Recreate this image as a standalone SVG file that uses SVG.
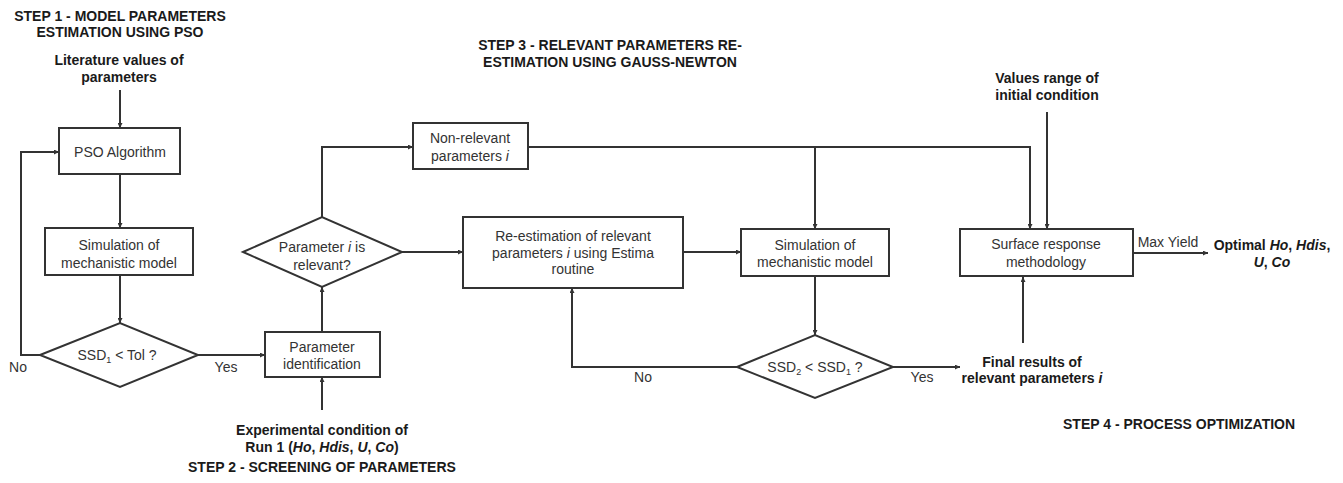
<svg xmlns="http://www.w3.org/2000/svg" width="1343" height="483" viewBox="0 0 1343 483">
<style>
.box{fill:#fff;stroke:#333;stroke-width:2}
.ln{fill:none;stroke:#333;stroke-width:2}
.t{font-family:"Liberation Sans",Arial,sans-serif;font-size:14px;fill:#333;text-anchor:middle}
.b{font-family:"Liberation Sans",Arial,sans-serif;font-size:14px;font-weight:bold;fill:#1a1a1a;text-anchor:middle}
.s{font-size:9px}
</style>
<defs>
<marker id="ah" viewBox="0 0 10 10" refX="10" refY="5" markerWidth="5" markerHeight="5" orient="auto" markerUnits="userSpaceOnUse">
<path d="M0,0 L10,5 L0,10 z" fill="#333"/>
</marker>
</defs>
<rect width="1343" height="483" fill="#fff"/>
<g id="labels">
<text class="b" x="120" y="21">STEP 1 - MODEL PARAMETERS</text>
<text class="b" x="120" y="37">ESTIMATION USING PSO</text>
<text class="b" x="119" y="65">Literature values of</text>
<text class="b" x="119" y="82">parameters</text>
<text class="b" x="610" y="50">STEP 3 - RELEVANT PARAMETERS RE-</text>
<text class="b" x="610" y="67">ESTIMATION USING GAUSS-NEWTON</text>
<text class="b" x="1047" y="83">Values range of</text>
<text class="b" x="1047" y="100">initial condition</text>
<text class="b" x="322" y="435">Experimental condition of</text>
<text class="b" x="322" y="452">Run 1 (<tspan font-style="italic">Ho</tspan>, <tspan font-style="italic">Hdis</tspan>, <tspan font-style="italic">U</tspan>, <tspan font-style="italic">Co</tspan>)</text>
<text class="b" x="188" y="472" text-anchor="start" style="text-anchor:start">STEP 2 - SCREENING OF PARAMETERS</text>
<text class="b" x="1032" y="367">Final results of</text>
<text class="b" x="1032" y="383">relevant parameters <tspan font-style="italic">i</tspan></text>
<text class="b" x="1272" y="250">Optimal <tspan font-style="italic">Ho</tspan>, <tspan font-style="italic">Hdis</tspan>,</text>
<text class="b" x="1272" y="267"><tspan font-style="italic">U</tspan>, <tspan font-style="italic">Co</tspan></text>
<text class="b" x="1063" y="429" style="text-anchor:start">STEP 4 - PROCESS OPTIMIZATION</text>
<text class="t" x="18" y="372">No</text>
<text class="t" x="226" y="372">Yes</text>
<text class="t" x="643" y="382">No</text>
<text class="t" x="922" y="382">Yes</text>
<text class="t" x="1168" y="247">Max Yield</text>
</g>
<g id="connectors">
<path class="ln" d="M120,90 V128" marker-end="url(#ah)"/>
<path class="ln" d="M120,174 V228" marker-end="url(#ah)"/>
<path class="ln" d="M120,275 V323" marker-end="url(#ah)"/>
<path class="ln" d="M40,355 H21 V152 H59" marker-end="url(#ah)"/>
<path class="ln" d="M198,355 H265" marker-end="url(#ah)"/>
<path class="ln" d="M322,410 V377" marker-end="url(#ah)"/>
<path class="ln" d="M322,332 V287" marker-end="url(#ah)"/>
<path class="ln" d="M322,217 V147 H413" marker-end="url(#ah)"/>
<path class="ln" d="M402,252 H463" marker-end="url(#ah)"/>
<path class="ln" d="M683,252 H741" marker-end="url(#ah)"/>
<path class="ln" d="M528,147 H1030 V229" marker-end="url(#ah)"/>
<path class="ln" d="M815,147 V229" marker-end="url(#ah)"/>
<path class="ln" d="M815,276 V335" marker-end="url(#ah)"/>
<path class="ln" d="M737,367 H572 V288" marker-end="url(#ah)"/>
<path class="ln" d="M893,367 H960" marker-end="url(#ah)"/>
<path class="ln" d="M1023,343 V277" marker-end="url(#ah)"/>
<path class="ln" d="M1047,112 V229" marker-end="url(#ah)"/>
<path class="ln" d="M1133,253 H1208" marker-end="url(#ah)"/>
</g>
<g id="pso">
<rect class="box" x="59" y="128" width="121" height="46"/>
<text class="t" x="120" y="157">PSO Algorithm</text>
</g>
<g id="sim1">
<rect class="box" x="45" y="228" width="148" height="47"/>
<text class="t" x="119" y="250">Simulation of</text>
<text class="t" x="119" y="268">mechanistic model</text>
</g>
<g id="ssd1">
<polygon class="box" points="40,355 120,323 198,355 120,387"/>
<text class="t" x="117" y="360">SSD<tspan class="s" dy="3">1</tspan><tspan dy="-3"> &lt; Tol ?</tspan></text>
</g>
<g id="paramid">
<rect class="box" x="265" y="332" width="115" height="45"/>
<text class="t" x="322" y="352">Parameter</text>
<text class="t" x="322" y="369">identification</text>
</g>
<g id="relevant">
<polygon class="box" points="243,252 322,217 402,252 322,287"/>
<text class="t" x="322" y="252">Parameter <tspan font-style="italic">i</tspan> is</text>
<text class="t" x="322" y="270">relevant?</text>
</g>
<g id="nonrel">
<rect class="box" x="413" y="123" width="115" height="46"/>
<text class="t" x="470" y="143">Non-relevant</text>
<text class="t" x="470" y="161">parameters <tspan font-style="italic">i</tspan></text>
</g>
<g id="reest">
<rect class="box" x="463" y="217" width="220" height="71"/>
<text class="t" x="573" y="241">Re-estimation of relevant</text>
<text class="t" x="573" y="258">parameters <tspan font-style="italic">i</tspan> using Estima</text>
<text class="t" x="573" y="274">routine</text>
</g>
<g id="sim2">
<rect class="box" x="741" y="229" width="148" height="47"/>
<text class="t" x="815" y="250">Simulation of</text>
<text class="t" x="815" y="267">mechanistic model</text>
</g>
<g id="ssd2">
<polygon class="box" points="737,367 815,335 893,367 815,398"/>
<text class="t" x="815" y="372">SSD<tspan class="s" dy="3">2</tspan><tspan dy="-3"> &lt; SSD</tspan><tspan class="s" dy="3">1</tspan><tspan dy="-3"> ?</tspan></text>
</g>
<g id="srm">
<rect class="box" x="960" y="229" width="173" height="47"/>
<text class="t" x="1046" y="249">Surface response</text>
<text class="t" x="1046" y="267">methodology</text>
</g>
</svg>
